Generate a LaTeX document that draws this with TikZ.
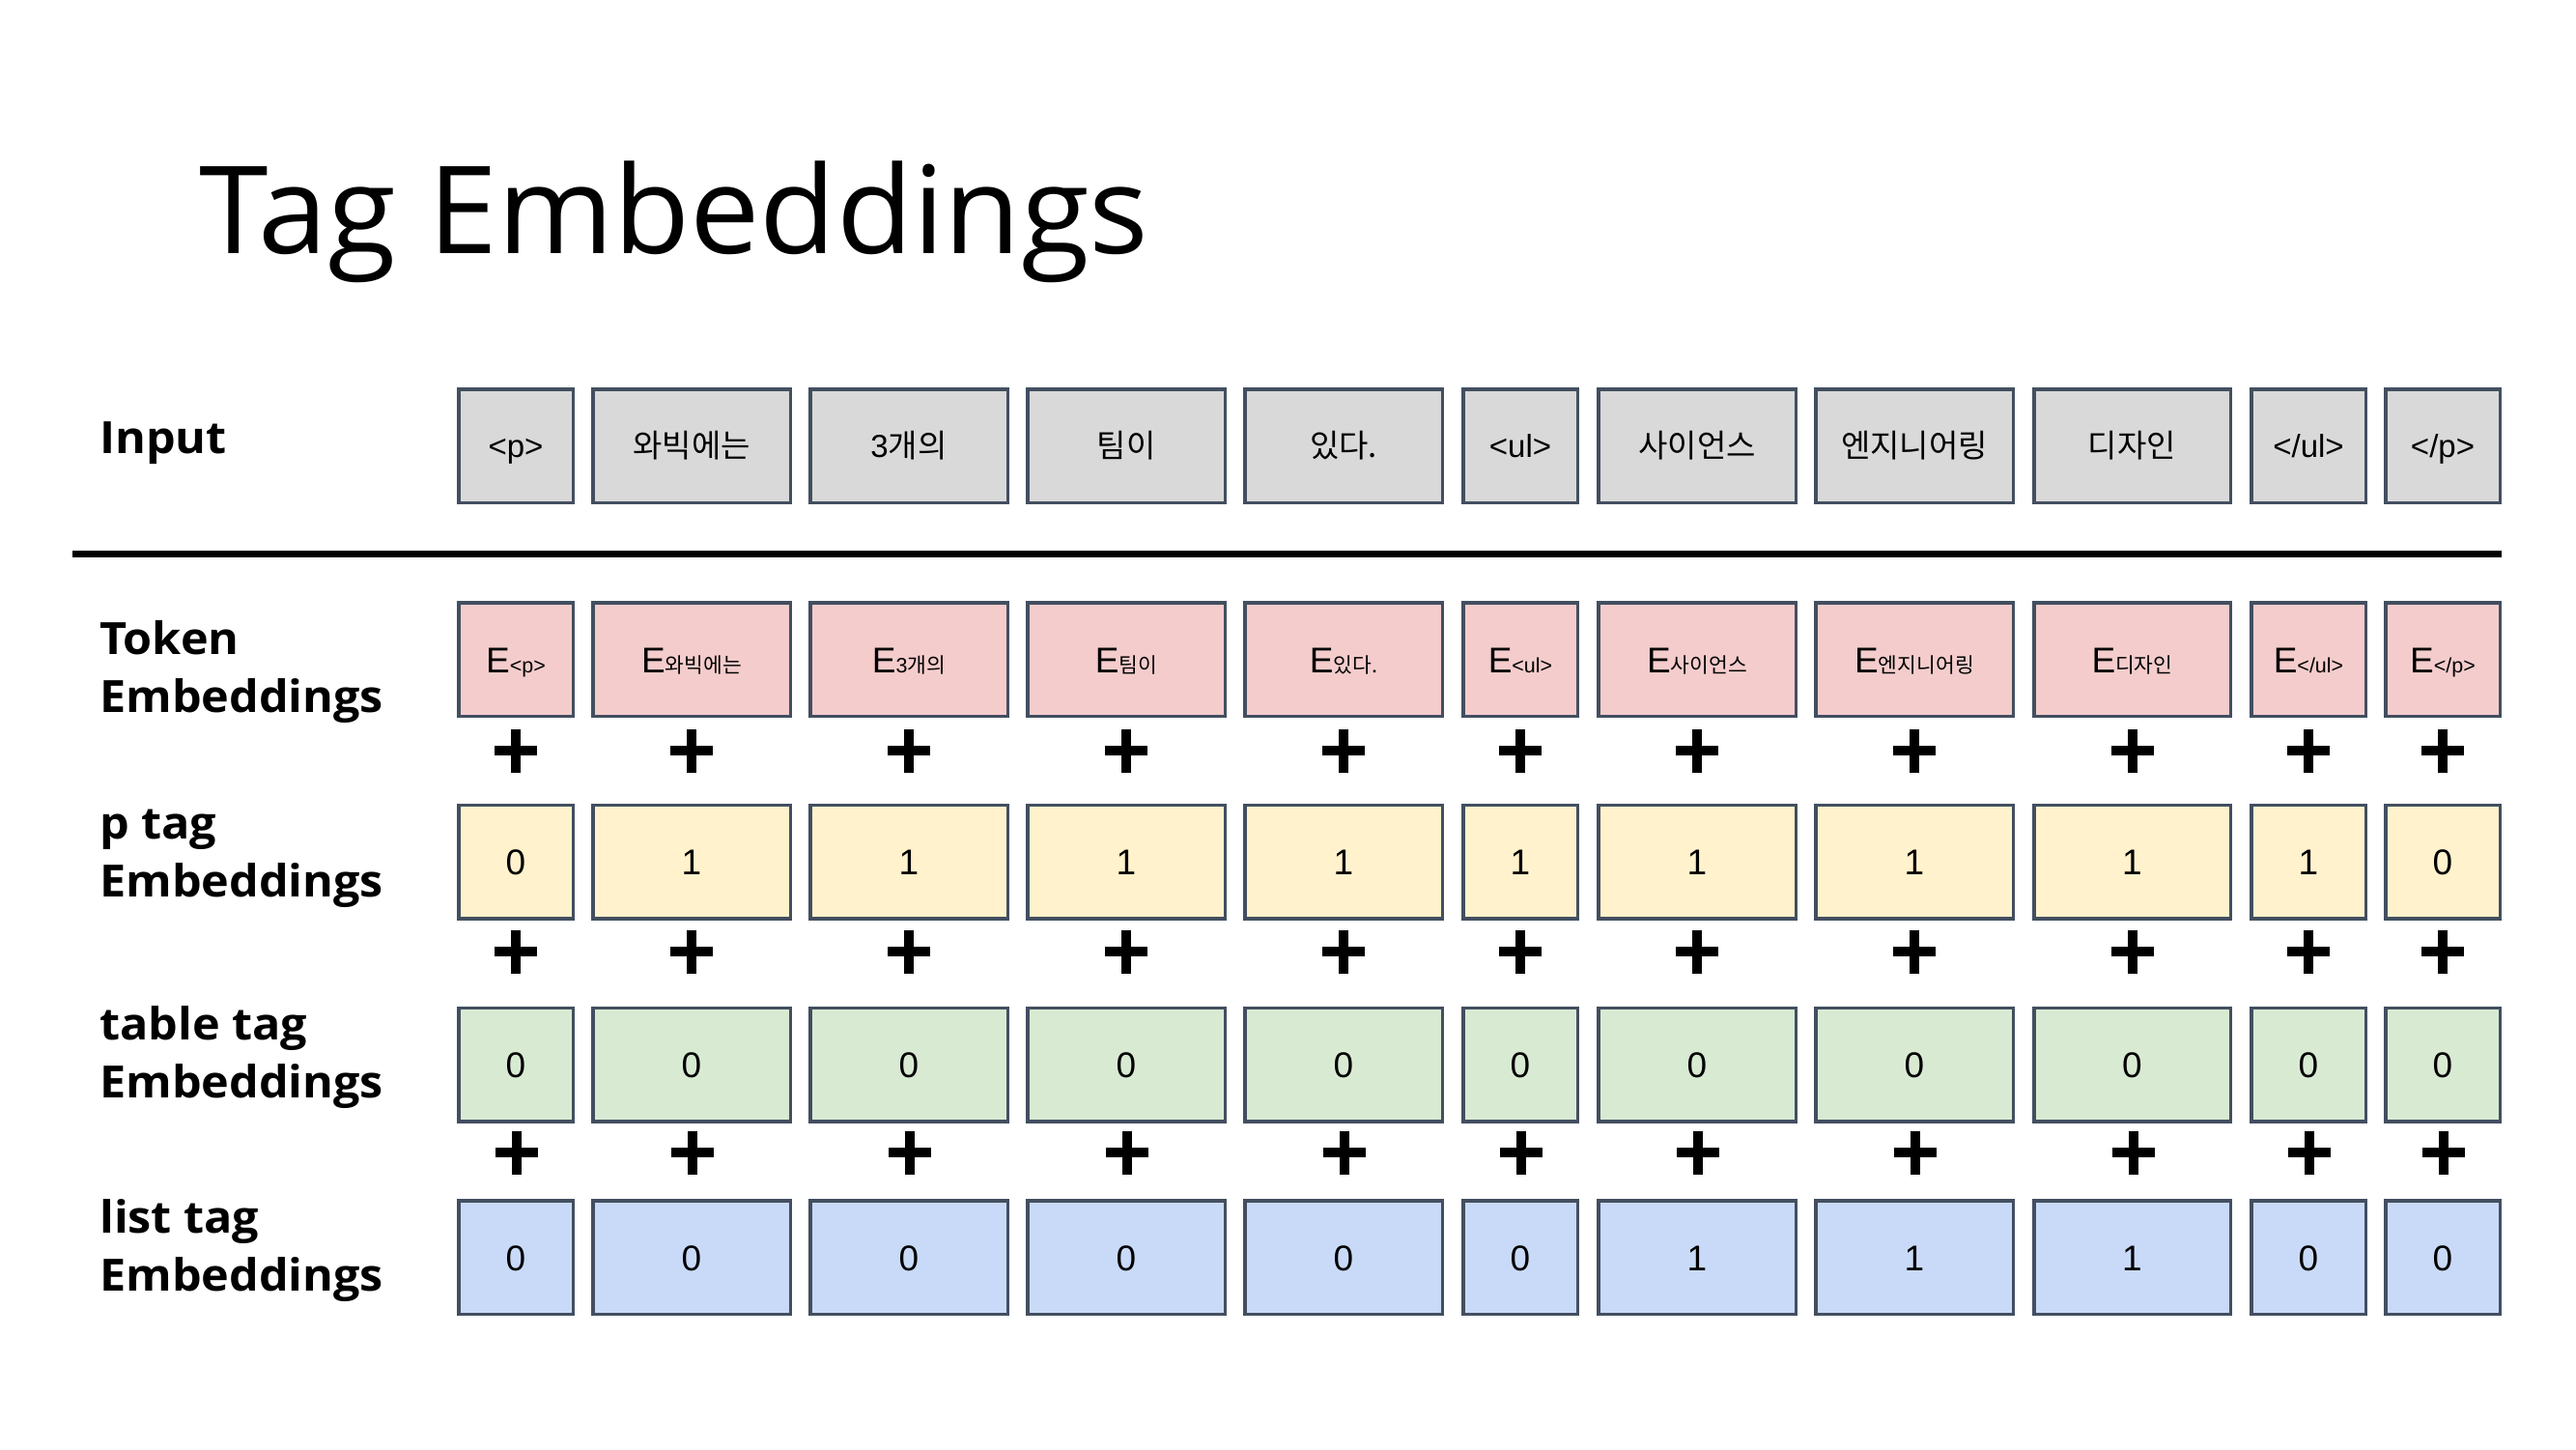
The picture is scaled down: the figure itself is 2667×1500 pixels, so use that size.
\documentclass[tikz,border=0pt]{standalone}
\usepackage{fontspec}
\setmainfont{Liberation Sans}
\newfontfamily\osanst{Open Sans}[FakeStretch=1.025]
\newfontfamily\osansl{Open Sans}[FakeStretch=1.055]
\newfontfamily\kr{Noto Sans CJK KR}
\definecolor{bordc}{RGB}{67,79,96}
\definecolor{inpc}{HTML}{D9D9D9}
\definecolor{tokc}{HTML}{F4CCCC}
\definecolor{pc}{HTML}{FFF2CC}
\definecolor{tabc}{HTML}{D9EAD3}
\definecolor{lstc}{HTML}{C9DAF8}
\newcommand\tp{<p>}
\newcommand\tpe{</p>}
\newcommand\tu{<ul>}
\newcommand\tue{</ul>}
\newcommand\Esub[1]{{\fontsize{37}{40}\selectfont E}{\fontsize{21.5}{25}\selectfont #1}}
\def\cols{1/473/595,2/612/820,3/837/1045,4/1062/1270,5/1287/1495,6/1513/1635,7/1653/1861,8/1878/2086,9/2104/2311,10/2329/2451,11/2468/2590}
\begin{document}
\begin{tikzpicture}[x=1pt,y=-1pt,
  cell/.style={draw=bordc, line width=3.5pt, inner sep=0pt, minimum height=117.5pt, text depth=0pt},
  inrow/.style={cell, fill=inpc, text height=24pt, font=\fontsize{33}{40}\selectfont},
  tokrow/.style={cell, fill=tokc, text height=28pt},
  numrow/.style={cell, text height=27pt, font=\fontsize{37}{44}\selectfont},
  lbl/.style={anchor=base west, inner sep=0pt, align=left, font=\osansl\bfseries\fontsize{46}{60}\selectfont},
  plus/.style={minimum size=45pt, inner sep=0pt, path picture={
     \fill (path picture bounding box.center) ++(-5pt,-22.5pt) rectangle ++(10pt,45pt);
     \fill (path picture bounding box.center) ++(-22pt,-5pt) rectangle ++(44pt,10pt);}}
]
\useasboundingbox[fill=white] (0,0) rectangle (2667,1500);

% title
\node[anchor=base west, inner sep=0pt] (title) at (206,262) {\osanst\fontsize{126}{150}\selectfont Tag Embeddings};

% row labels (base anchor = baseline of the last line)
\node[lbl] (lin) at (103,469) {Input};
\node[lbl] (ltok) at (103,737) {Token\\Embeddings};
\node[lbl] (lp) at (103,928) {p tag\\Embeddings};
\node[lbl] (ltab) at (103,1136) {table tag\\Embeddings};
\node[lbl] (llst) at (103,1336) {list tag\\Embeddings};

% separator
\coordinate (sepL) at (75,573.5);
\coordinate (sepR) at (2590,573.5);
\draw[line width=7pt] (sepL) -- (sepR);

% input row
\foreach \i/\l/\r/\t in {1/473/595/\tp, 2/612/820/{\kr 와빅에는}, 3/837/1045/{3\kr 개의}, 4/1062/1270/{\kr 팀이}, 5/1287/1495/{\kr 있다.}, 6/1513/1635/\tu, 7/1653/1861/{\kr 사이언스}, 8/1878/2086/{\kr 엔지니어링}, 9/2104/2311/{\kr 디자인}, 10/2329/2451/\tue, 11/2468/2590/\tpe}{
  \pgfmathsetmacro\cx{(\l+\r)/2}
  \pgfmathsetmacro\w{\r-\l-3.5}
  \node[inrow, minimum width=\w pt] (in\i) at (\cx,461.5) {\t};
}

% token row
\foreach \i/\l/\r/\t in {1/473/595/\tp, 2/612/820/{\kr 와빅에는}, 3/837/1045/{3\kr 개의}, 4/1062/1270/{\kr 팀이}, 5/1287/1495/{\kr 있다.}, 6/1513/1635/\tu, 7/1653/1861/{\kr 사이언스}, 8/1878/2086/{\kr 엔지니어링}, 9/2104/2311/{\kr 디자인}, 10/2329/2451/\tue, 11/2468/2590/\tpe}{
  \pgfmathsetmacro\cx{(\l+\r)/2}
  \pgfmathsetmacro\w{\r-\l-3.5}
  \node[tokrow, minimum width=\w pt] (tok\i) at (\cx,682.5) {\Esub{\t}};
}

% p tag row
\foreach \i/\l/\r/\v in {1/473/595/0, 2/612/820/1, 3/837/1045/1, 4/1062/1270/1, 5/1287/1495/1, 6/1513/1635/1, 7/1653/1861/1, 8/1878/2086/1, 9/2104/2311/1, 10/2329/2451/1, 11/2468/2590/0}{
  \pgfmathsetmacro\cx{(\l+\r)/2}
  \pgfmathsetmacro\w{\r-\l-3.5}
  \node[numrow, fill=pc, minimum width=\w pt] (p\i) at (\cx,892) {\v};
}

% table tag row
\foreach \i/\l/\r/\v in {1/473/595/0, 2/612/820/0, 3/837/1045/0, 4/1062/1270/0, 5/1287/1495/0, 6/1513/1635/0, 7/1653/1861/0, 8/1878/2086/0, 9/2104/2311/0, 10/2329/2451/0, 11/2468/2590/0}{
  \pgfmathsetmacro\cx{(\l+\r)/2}
  \pgfmathsetmacro\w{\r-\l-3.5}
  \node[numrow, fill=tabc, minimum width=\w pt] (tab\i) at (\cx,1102) {\v};
}

% list tag row
\foreach \i/\l/\r/\v in {1/473/595/0, 2/612/820/0, 3/837/1045/0, 4/1062/1270/0, 5/1287/1495/0, 6/1513/1635/0, 7/1653/1861/1, 8/1878/2086/1, 9/2104/2311/1, 10/2329/2451/0, 11/2468/2590/0}{
  \pgfmathsetmacro\cx{(\l+\r)/2}
  \pgfmathsetmacro\w{\r-\l-3.5}
  \node[numrow, fill=lstc, minimum width=\w pt] (lst\i) at (\cx,1301.5) {\v};
}

% plus signs
\foreach \i/\l/\r in \cols {
  \pgfmathsetmacro\cx{(\l+\r)/2}
  \node[plus] (plusA\i) at (\cx,777) {};
  \node[plus] (plusB\i) at (\cx,985) {};
  \node[plus] (plusC\i) at (\cx+1,1193) {};
}
\end{tikzpicture}
\end{document}
